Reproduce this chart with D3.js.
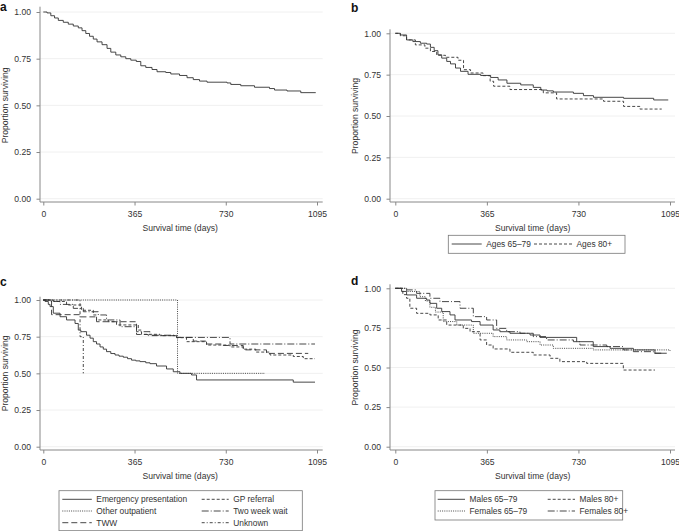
<!DOCTYPE html>
<html><head><meta charset="utf-8">
<script src="https://cdn.jsdelivr.net/npm/d3@7"></script>
<style>
body{margin:0;background:#fff;}
text{font-family:"Liberation Sans",Arial,sans-serif;}
</style></head>
<body>
<svg id="chart" width="679" height="531"></svg>
<script>
// ---------- DATA ----------
const xTicks = [0, 365, 730, 1095];
const yTicks = [0, 0.25, 0.5, 0.75, 1.0];
const xTitle = "Survival time (days)";
const yTitle = "Proportion surviving";
const panelLabels = ["a", "b", "c", "d"];

// Panel a: all patients
const aTime = [0,15,30,45,60,80,100,120,140,155,170,185,200,215,235,255,270,290,310,330,350,372,390,410,435,455,490,510,545,575,600,625,655,735,750,790,845,905,925,975,1030,1090];
const aSurv = [1.0,0.995,0.98,0.968,0.955,0.945,0.935,0.925,0.915,0.9,0.885,0.87,0.855,0.84,0.825,0.805,0.785,0.77,0.76,0.75,0.742,0.735,0.712,0.703,0.692,0.68,0.676,0.668,0.66,0.648,0.638,0.63,0.624,0.62,0.612,0.605,0.597,0.59,0.582,0.577,0.568,0.568];

// Panel b: by age
const bSeries = ["Ages 65\u201379", "Ages 80+"];
const b1Time = [0,20,45,70,100,125,140,155,170,185,205,220,240,260,290,340,380,410,445,500,550,580,605,630,710,750,790,910,1030,1088];
const b1Surv = [1,0.99,0.96,0.95,0.94,0.935,0.915,0.895,0.87,0.85,0.83,0.815,0.79,0.77,0.752,0.745,0.733,0.718,0.698,0.688,0.673,0.657,0.652,0.645,0.637,0.623,0.613,0.607,0.597,0.597];
const b2Time = [0,20,45,80,118,140,165,200,250,272,300,350,378,392,457,590,643,830,910,975,1062];
const b2Surv = [1,0.985,0.96,0.93,0.91,0.89,0.867,0.855,0.837,0.78,0.76,0.744,0.71,0.68,0.66,0.64,0.603,0.589,0.558,0.542,0.542];

// Panel c: by route
const cSeries = ["Emergency presentation", "Other outpatient", "TWW", "GP referral", "Two week wait", "Unknown"];
const c1Time = [0,7,20,27,40,67,93,127,140,150,173,187,200,213,227,240,253,270,287,303,320,337,353,370,387,410,427,453,493,520,547,593,613,1000,1087];
const c1Surv = [1,0.99,0.97,0.955,0.91,0.886,0.864,0.84,0.795,0.784,0.76,0.74,0.716,0.70,0.68,0.665,0.648,0.635,0.625,0.617,0.61,0.60,0.59,0.585,0.58,0.572,0.566,0.55,0.53,0.511,0.50,0.489,0.455,0.44,0.44];
const c2Time = [0,537,887];
const c2Surv = [1,0.5,0.5];
const c3Time = [0,33,147,213,373,420,530,600,650,720,800,893,1060];
const c3Surv = [1,0.90,0.885,0.852,0.765,0.757,0.745,0.72,0.70,0.69,0.66,0.636,0.636];
const c4Time = [0,40,93,153,200,213,260,293,380,393,467,533,573,653,747,800,850,907,1000,1040,1087];
const c4Surv = [1,0.99,0.966,0.93,0.898,0.864,0.852,0.83,0.795,0.766,0.757,0.743,0.716,0.693,0.68,0.665,0.645,0.625,0.615,0.60,0.60];
const c5Time = [0,27,67,120,160,220,253,307,373,427,533,747,1087];
const c5Surv = [1,0.99,0.97,0.943,0.92,0.898,0.864,0.818,0.784,0.76,0.745,0.70,0.70];
const c6Time = [0,147,160,160];
const c6Surv = [1,0.75,0.5,0.5];

// Panel d: by sex and age
const dSeries = ["Males 65\u201379", "Females 65\u201379", "Males 80+", "Females 80+"];
const d1Time = [0,25,45,85,125,138,165,185,218,238,304,338,390,417,457,537,577,723,789,856,949,1035,1082];
const d1Surv = [1,0.98,0.958,0.937,0.926,0.905,0.874,0.853,0.832,0.80,0.79,0.768,0.737,0.726,0.716,0.705,0.69,0.663,0.632,0.621,0.611,0.59,0.59];
const d2Time = [0,45,98,120,138,160,191,245,311,390,444,524,577,630,789,1095];
const d2Surv = [1,0.98,0.947,0.92,0.88,0.85,0.79,0.768,0.716,0.695,0.674,0.663,0.642,0.621,0.611,0.604];
const d3Time = [0,30,45,58,85,138,171,205,271,298,338,364,390,457,550,617,656,763,909,1035];
const d3Surv = [1,0.96,0.937,0.874,0.842,0.832,0.80,0.768,0.747,0.726,0.674,0.642,0.617,0.596,0.579,0.558,0.537,0.526,0.484,0.484];
const d4Time = [0,45,85,138,178,258,311,364,404,444,497,550,603,710,736,843,909,949,1029,1060];
const d4Surv = [1,0.99,0.968,0.937,0.916,0.874,0.821,0.80,0.747,0.726,0.716,0.695,0.674,0.663,0.642,0.632,0.611,0.60,0.59,0.59];

// ---------- STYLES ----------
const DASH = {
  solid: null,
  dot: "1,1.2",
  dash: "3,2",
  longdash: "6,3",
  dashdot: "7,2,1,2",
  shortdashdot: "3,2,1,2"
};
const LINE = "#333";
const FS = "8.6px";
const LFS = "8.4px";

const svg = d3.select("#chart");
const zip = (t, s) => t.map((v, i) => [v, s[i]]);

function panel(cfg) {
  const g = svg.append("g");
  const x = d3.scaleLinear().domain([0, 1095]).range([cfg.x0, cfg.x1]);
  const y = d3.scaleLinear().domain([0, 1]).range([cfg.y0, cfg.y1]);

  g.selectAll(".grid").data(yTicks).join("line")
    .attr("x1", cfg.ax).attr("x2", cfg.right)
    .attr("y1", d => y(d)).attr("y2", d => y(d))
    .attr("stroke", "#ececec").attr("stroke-width", 0.8);

  const ya = g.append("g").attr("transform", `translate(${cfg.ax},0)`)
    .call(d3.axisLeft(y).tickValues(yTicks).tickFormat(d3.format(".2f")).tickSize(3.5).tickPadding(5.5));
  ya.select(".domain").attr("d", `M0,${cfg.top}V${cfg.ay}`);
  const xa = g.append("g").attr("transform", `translate(0,${cfg.ay})`)
    .call(d3.axisBottom(x).tickValues(xTicks).tickFormat(d3.format("d")).tickSize(3.5).tickPadding(5));
  xa.select(".domain").attr("d", `M${cfg.ax},0H${cfg.right}`);
  g.selectAll(".domain").attr("stroke", "#888");
  g.selectAll(".tick line").attr("stroke", "#888");
  g.selectAll(".tick text").attr("fill", "#333").style("font-size", FS).style("font-family", '"Liberation Sans",Arial,sans-serif');

  g.append("text").attr("x", (cfg.x0 + cfg.x1) / 2).attr("y", cfg.ay + 29)
    .attr("text-anchor", "middle").attr("fill", "#333").style("font-size", FS).text(xTitle);
  g.append("text").attr("transform", `translate(${cfg.ytx},${(cfg.y0 + cfg.y1) / 2}) rotate(-90)`)
    .attr("text-anchor", "middle").attr("fill", "#333").style("font-size", FS).text(yTitle);
  g.append("text").attr("x", cfg.lx).attr("y", cfg.ly).attr("fill", "#111")
    .style("font-size", "12px").style("font-weight", "bold").text(cfg.label);

  const line = d3.line().x(d => x(d[0])).y(d => y(d[1])).curve(d3.curveStepAfter);
  cfg.series.forEach(s => {
    g.append("path").datum(zip(s.t, s.s)).attr("d", line)
      .attr("fill", "none").attr("stroke", LINE).attr("stroke-width", 0.9)
      .attr("stroke-dasharray", DASH[s.dash]);
  });

  if (cfg.legend) {
    const L = cfg.legend;
    g.append("rect").attr("x", L.x).attr("y", L.y).attr("width", L.w).attr("height", L.h)
      .attr("fill", "#fff").attr("stroke", "#777").attr("stroke-width", 0.8);
    L.items.forEach((it, i) => {
      const col = i % L.cols, row = Math.floor(i / L.cols);
      const lx = L.colX[col], ly = L.rowY[row], sw = L.sw[col];
      g.append("line").attr("x1", lx).attr("x2", lx + sw).attr("y1", ly).attr("y2", ly)
        .attr("stroke", LINE).attr("stroke-width", 0.9).attr("stroke-dasharray", DASH[it.dash]);
      g.append("text").attr("x", lx + sw + 4.5).attr("y", ly + 3.1).attr("fill", "#333")
        .style("font-size", LFS).text(it.name);
    });
  }
}

panel({label: panelLabels[0], lx: 0, ly: 11, x0: 43.3, x1: 317, y0: 198.7, y1: 12, ax: 40, ay: 202, top: 6.7, right: 322.7, ytx: 8,
  series: [{t: aTime, s: aSurv, dash: "solid"}]});

panel({label: panelLabels[1], lx: 351, ly: 12, x0: 395.3, x1: 670, y0: 198.7, y1: 33.3, ax: 390, ay: 202, top: 29.3, right: 675, ytx: 358,
  series: [{t: b1Time, s: b1Surv, dash: "solid"}, {t: b2Time, s: b2Surv, dash: "dash"}],
  legend: {x: 448.3, y: 235.3, w: 176.7, h: 18, cols: 2, colX: [451.7, 534], rowY: [244], sw: [30, 38],
    items: [{name: bSeries[0], dash: "solid"}, {name: bSeries[1], dash: "dash"}]}});

panel({label: panelLabels[2], lx: 0, ly: 286, x0: 43.3, x1: 317, y0: 446.7, y1: 300, ax: 40, ay: 450, top: 296.7, right: 322.7, ytx: 8,
  series: [
    {t: c1Time, s: c1Surv, dash: "solid"},
    {t: c2Time, s: c2Surv, dash: "dot"},
    {t: c3Time, s: c3Surv, dash: "longdash"},
    {t: c4Time, s: c4Surv, dash: "dash"},
    {t: c5Time, s: c5Surv, dash: "dashdot"},
    {t: c6Time, s: c6Surv, dash: "shortdashdot"}],
  legend: {x: 59, y: 490.7, w: 243.3, h: 40, cols: 2, colX: [62.3, 201.7], rowY: [499.3, 511, 522.7], sw: [29.5, 27],
    items: [
      {name: cSeries[0], dash: "solid"}, {name: cSeries[3], dash: "dash"},
      {name: cSeries[1], dash: "dot"}, {name: cSeries[4], dash: "dashdot"},
      {name: cSeries[2], dash: "longdash"}, {name: cSeries[5], dash: "shortdashdot"}]}});

panel({label: panelLabels[3], lx: 351, ly: 285, x0: 395.3, x1: 670, y0: 446.7, y1: 288.3, ax: 390, ay: 450, top: 284.3, right: 675, ytx: 358,
  series: [
    {t: d1Time, s: d1Surv, dash: "solid"},
    {t: d2Time, s: d2Surv, dash: "dot"},
    {t: d3Time, s: d3Surv, dash: "dash"},
    {t: d4Time, s: d4Surv, dash: "dashdot"}],
  legend: {x: 435, y: 490.7, w: 187.7, h: 29.3, cols: 2, colX: [437.7, 547.7], rowY: [499.3, 511], sw: [27.3, 27.3],
    items: [
      {name: dSeries[0], dash: "solid"}, {name: dSeries[2], dash: "dash"},
      {name: dSeries[1], dash: "dot"}, {name: dSeries[3], dash: "dashdot"}]}});
</script>
</body></html>
